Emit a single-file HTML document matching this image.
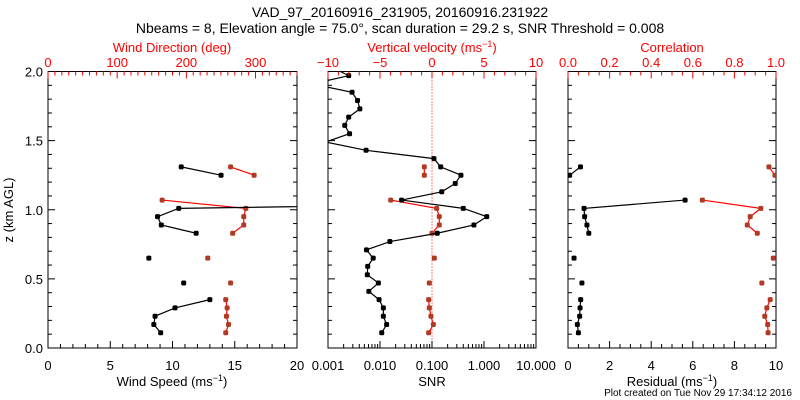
<!DOCTYPE html>
<html><head><meta charset="utf-8"><style>
html,body{margin:0;padding:0;background:#fff;}
svg{display:block;font-family:"Liberation Sans",sans-serif;}
</style></head><body>
<svg id="c" width="800" height="400" xmlns="http://www.w3.org/2000/svg">
<text x="400" y="17" font-size="14" text-anchor="middle">VAD_97_20160916_231905, 20160916.231922</text>
<text x="400" y="33" font-size="14" text-anchor="middle">Nbeams = 8, Elevation angle = 75.0°, scan duration = 29.2 s, SNR Threshold = 0.008</text>
<text x="792" y="396" font-size="10" text-anchor="end">Plot created on Tue Nov 29 17:34:12 2016</text>
</svg>
<script>
const heights=[0.11,0.17,0.23,0.29,0.35,0.41,0.47,0.53,0.59,0.65,0.71,0.77,0.83,0.89,0.95,1.01,1.07,1.13,1.19,1.25,1.31,1.37,1.43,1.49,1.55,1.61,1.67,1.73,1.79,1.85,1.91,1.97,2.03];
const windSpeed=[9.05,8.5,8.6,10.2,13.0,null,10.9,null,null,8.1,null,null,11.9,9.1,8.8,10.5,55,null,null,13.9,10.7,null,null,null,null,null,null,null,null,null,null,null,null];
const windDir=[257,261,258,259,257,null,264,null,null,231,null,null,267,283,283,286,165,null,null,298,264,null,null,null,null,null,null,null,null,null,null,null,null];
const snr=[0.0108,0.0134,0.0116,0.0116,0.0096,0.0061,0.0093,0.0057,0.0058,0.0074,0.0055,0.0155,0.126,0.64,1.13,0.40,0.026,0.154,0.28,0.36,0.147,0.109,0.0054,0.0009,0.0026,0.0021,0.0025,0.0041,0.0037,0.0029,0.0005,0.0025,0.0012];
const vertVel=[-0.32,0.13,-0.1,-0.26,-0.32,null,-0.26,null,null,0.22,null,null,0,0.7,0.7,0.45,-3.97,null,null,-0.74,-0.74,null,null,null,null,null,null,null,null,null,null,null,null];
const residual=[0.5,0.45,0.56,0.58,0.61,null,0.67,null,null,0.29,null,null,1.0,0.91,0.8,0.77,5.63,null,null,0.08,0.6,null,null,null,null,null,null,null,null,null,null,null,null];
const correlation=[0.962,0.96,0.946,0.956,0.972,null,0.932,null,null,0.987,null,null,0.91,0.862,0.876,0.927,0.646,null,null,0.995,0.966,null,null,null,null,null,null,null,null,null,null,null,null];
const zTicks=[0,0.5,1.0,1.5,2.0];
const speedTicks=[0,5,10,15,20];
const dirTicks=[0,100,200,300];
const snrTicks=[0.001,0.01,0.1,1,10];
const snrTickLabels=["0.001","0.010","0.100","1.000","10.000"];
const vvTicks=[-10,-5,0,5,10];
const resTicks=[0,2,4,6,8,10];
const corTicks=[0,0.2,0.4,0.6,0.8,1.0];

const svg=document.getElementById('c');
const NS='http://www.w3.org/2000/svg';
const RED='#ff0000', MRK='#b03a24';
const Y0=348, Y1=71.5;
const yS=z=>Y0-(z/2)*(Y0-Y1);
function el(tag,at,parent){const e=document.createElementNS(NS,tag);for(const k in at)e.setAttribute(k,at[k]);(parent||svg).appendChild(e);return e;}
function txt(x,y,s,col,anchor,size,name){const t=el('text',{x:x,y:y,'font-size':size||13,fill:col||'#000','text-anchor':anchor||'middle'});t.textContent=s;


return t;}
function line(x1,y1,x2,y2,col,w,g){return el('line',{x1:x1,y1:y1,x2:x2,y2:y2,stroke:col,'stroke-width':w||1},g);}

let clipN=0;
function panel(x0,x1,name){
  const g=el('g',{});
  
  
  const r=el('rect',{x:x0,y:Y1,width:x1-x0,height:Y0-Y1,fill:'none',stroke:'#000','stroke-width':1},g);
  
  
  // left/right z ticks
  for(let i=0;i<=20;i++){const z=i/10,y=yS(z),L=(i%5==0)?7:4;line(x0,y,x0+L,y,'#000',1,g);line(x1,y,x1-L,y,'#000',1,g);}
  const id='cl'+(clipN++);
  const cp=el('clipPath',{id:id},g);el('rect',{x:x0,y:Y1,width:x1-x0,height:Y0-Y1},cp);
  const d=el('g',{'clip-path':'url(#'+id+')'},g);
  return {g:g,d:d};
}
function xTicks(g,x0,x1,fn,major,minorStep,lo,hi,y,dir,col){
  for(let v=lo;v<=hi+1e-9;v+=minorStep){const x=fn(v);const isM=major.some(m=>Math.abs(m-v)<1e-6);line(x,y,x,y+dir*(isM?7:4),col,1,g);}
}
function series(d,vals,xf,col,name,shape){
  let seg=[];
  const segs=[];
  heights.forEach((h,i)=>{const v=vals[i];if(v===null){if(seg.length)segs.push(seg);seg=[];}else seg.push([xf(v),yS(h)]);});
  if(seg.length)segs.push(seg);
  segs.forEach(s=>{if(s.length>1){const p=el('polyline',{points:s.map(q=>q.join(',')).join(' '),fill:'none',stroke:col,'stroke-width':1.2},d);
    
    }});
  heights.forEach((h,i)=>{const v=vals[i];if(v===null)return;const x=xf(v),y=yS(h);
    const m=el('rect',{x:x-2.5,y:y-2.5,width:5,height:5,rx:1.5,fill:col==RED?MRK:'#000'},d);
    
    });
}

// Panel 1
const P1=[48,297];
const sx=v=>P1[0]+v/20*(P1[1]-P1[0]);
const dx=v=>P1[0]+v/360*(P1[1]-P1[0]);
const p1=panel(P1[0],P1[1],'wind-panel');
xTicks(p1.g,P1[0],P1[1],sx,speedTicks,1,0,20,Y0,-1,'#000');
xTicks(p1.g,P1[0],P1[1],dx,dirTicks.concat([0]),10,0,360,Y1,1,RED);
speedTicks.forEach(v=>txt(sx(v),370,String(v),'#000','middle',13,'speed-tick-label'));
dirTicks.forEach(v=>txt(dx(v),67,String(v),RED,'middle',13,'direction-tick-label'));
zTicks.forEach(v=>txt(P1[0]-5,yS(v)+5,v.toFixed(1),'#000','end',13,'z-tick-label'));
series(p1.d,windDir,dx,RED,'wind-direction');
series(p1.d,windSpeed,sx,'#000','wind-speed');
txt(172,52,'Wind Direction (deg)',RED,'middle',13,'direction-axis-title');
{const t=txt(172,386,'','#000','middle',13,'speed-axis-title');t.innerHTML='Wind Speed (ms<tspan dy="-5" font-size="9">−1</tspan><tspan dy="5">)</tspan>';}
{const t=txt(13,210,'z (km AGL)','#000','middle',13,'z-axis-title');t.setAttribute('transform','rotate(-90 13 210)');}

// Panel 2
const P2=[328,536];
const snrx=v=>P2[0]+(Math.log10(v)+3)/4*(P2[1]-P2[0]);
const vvx=v=>P2[0]+(v+10)/20*(P2[1]-P2[0]);
const p2=panel(P2[0],P2[1],'snr-panel');
for(let dcd=-3;dcd<1;dcd++){for(let k=1;k<=10;k++){const v=k*Math.pow(10,dcd);const x=snrx(v);line(x,Y0,x,Y0-(k==1||k==10?7:4),'#000',1,p2.g);}}
xTicks(p2.g,P2[0],P2[1],vvx,vvTicks,1,-10,10,Y1,1,RED);
snrTicks.forEach((v,i)=>txt(snrx(v),370,snrTickLabels[i],'#000','middle',13,'snr-tick-label'));
vvTicks.forEach(v=>txt(vvx(v),67,v<0?'−'+Math.abs(v):String(v),RED,'middle',13,'velocity-tick-label'));
{const l=el('line',{x1:vvx(0),y1:Y1,x2:vvx(0),y2:Y0,stroke:RED,'stroke-width':1,'stroke-dasharray':'1,2'},p2.d);

}
series(p2.d,vertVel,vvx,RED,'vertical-velocity');
series(p2.d,snr,snrx,'#000','snr');
{const t=txt(432,52,'','#e00','middle',13,'velocity-axis-title');t.setAttribute('fill',RED);t.innerHTML='Vertical velocity (ms<tspan dy="-5" font-size="9">−1</tspan><tspan dy="5">)</tspan>';}
txt(432,386,'SNR','#000','middle',13,'snr-axis-title');

// Panel 3
const P3=[568,776];
const rx=v=>P3[0]+v/10*(P3[1]-P3[0]);
const cx=v=>P3[0]+v*(P3[1]-P3[0]);
const p3=panel(P3[0],P3[1],'residual-panel');
xTicks(p3.g,P3[0],P3[1],rx,resTicks,0.5,0,10,Y0,-1,'#000');
xTicks(p3.g,P3[0],P3[1],cx,corTicks,0.05,0,1,Y1,1,RED);
resTicks.forEach(v=>txt(rx(v),370,String(v),'#000','middle',13,'residual-tick-label'));
corTicks.forEach(v=>txt(cx(v),67,v.toFixed(1),RED,'middle',13,'correlation-tick-label'));
series(p3.d,correlation,cx,RED,'correlation');
series(p3.d,residual,rx,'#000','residual');
txt(672,52,'Correlation',RED,'middle',13,'correlation-axis-title');
{const t=txt(672,386,'','#000','middle',13,'residual-axis-title');t.innerHTML='Residual (ms<tspan dy="-5" font-size="9">−1</tspan><tspan dy="5">)</tspan>';}
</script>
</body></html>
